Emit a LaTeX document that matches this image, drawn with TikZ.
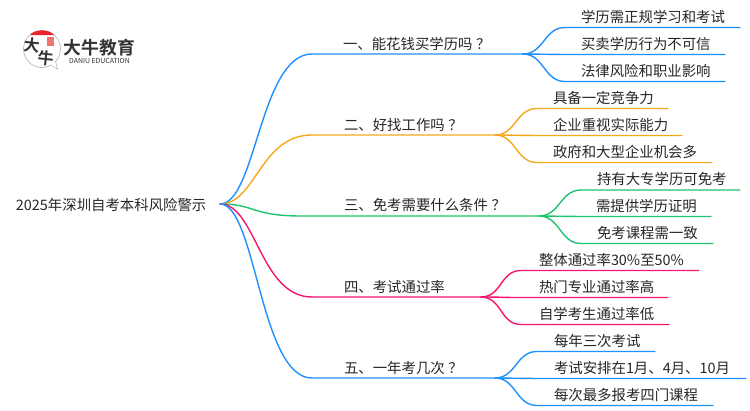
\documentclass[tikz,border=0pt]{standalone}
\usepackage{fontspec}
\setmainfont{Noto Sans CJK SC}
\newfontfamily\boldcjk{Noto Sans CJK SC Bold}
\definecolor{cblue}{HTML}{1E90FF}
\definecolor{corange}{HTML}{F5A81C}
\definecolor{cgreen}{HTML}{1FC46F}
\definecolor{cpink}{HTML}{F5156E}
\definecolor{ctext}{HTML}{262626}
\definecolor{clogo}{HTML}{333333}
\definecolor{cred}{HTML}{E8262A}
\tikzset{
  lbl/.style={anchor=west,inner sep=0pt,outer sep=0pt,text=ctext,font=\fontsize{14.4}{16}\selectfont},
  link/.style={line width=1.4pt,line cap=round,line join=round},
}
\newcommand{\branch}[2]{\draw[link,#1] (root) .. controls +(36,0) and +(-52,0) .. (#2a) -- (#2e);}
\newcommand{\twig}[3]{\draw[link,#1] (#2e) .. controls +(21,0) and +(-21,0) .. (#3a) -- (#3e);}
\newcommand{\qmark}{\kern3.5pt ？}
\begin{document}
\begin{tikzpicture}[x=1pt,y=-1pt]
\useasboundingbox (0,0) rectangle (750,410);
% logo
\coordinate (logoo) at (42,49);
\draw[gray!60,line width=0.6pt,fill=white] (51,65) -- (57.5,69) -- (55.5,61);
\draw[gray!60,line width=0.6pt] (logoo) circle[radius=18.5];
\fill[white] (50.5,64.5) -- (56.5,68) -- (55,61.5) -- cycle;
\fill[cred] (30,35) .. controls (35,28.8) and (49,28.8) .. (54,35) -- cycle;
\fill[cred!65] (46.5,36.5) rectangle (54,46);
\node[inner sep=0pt,text=clogo,font=\boldcjk\fontsize{16}{16}\selectfont,rotate=-6] (logoa) at (32.5,45.5) {大};
\node[inner sep=0pt,text=clogo,font=\boldcjk\fontsize{16}{16}\selectfont,rotate=-6] (logob) at (46,58) {牛};
\node[inner sep=0pt,anchor=center,text=clogo,font=\boldcjk\fontsize{17.8}{18}\selectfont] (logoc) at (99.5,47.5) {大牛教育};
\node[inner sep=0pt,anchor=center,text=clogo,font=\fontsize{6.9}{7}\selectfont] (logod) at (99.5,60.5) {DANIU EDUCATION};
% anchors
\coordinate (root) at (220,204);
\coordinate (b1a) at (312,54);   \coordinate (b1e) at (523,54);
\coordinate (b2a) at (312,135);  \coordinate (b2e) at (495,135);
\coordinate (b3a) at (302,216);  \coordinate (b3e) at (539,216);
\coordinate (b4a) at (312,297);  \coordinate (b4e) at (481,297);
\coordinate (b5a) at (312,378);  \coordinate (b5e) at (495,378);
\coordinate (l11a) at (565,27.5);  \coordinate (l11e) at (740,27.5);
\coordinate (l12a) at (565,54.5);  \coordinate (l12e) at (725,54.5);
\coordinate (l13a) at (565,81.5);  \coordinate (l13e) at (725,81.5);
\coordinate (l21a) at (537,108.5); \coordinate (l21e) at (668,108.5);
\coordinate (l22a) at (537,135.5); \coordinate (l22e) at (682,135.5);
\coordinate (l23a) at (537,162.5); \coordinate (l23e) at (712,162.5);
\coordinate (l31a) at (581,190);   \coordinate (l31e) at (740,190);
\coordinate (l32a) at (581,216.5); \coordinate (l32e) at (711,216.5);
\coordinate (l33a) at (581,243.5); \coordinate (l33e) at (713,243.5);
\coordinate (l41a) at (521,270.5); \coordinate (l41e) at (699,270.5);
\coordinate (l42a) at (521,297.5); \coordinate (l42e) at (668,297.5);
\coordinate (l43a) at (521,324.5); \coordinate (l43e) at (669,324.5);
\coordinate (l51a) at (537,351.5); \coordinate (l51e) at (655,351.5);
\coordinate (l52a) at (537,378.5); \coordinate (l52e) at (746,378.5);
\coordinate (l53a) at (537,405.5); \coordinate (l53e) at (713,405.5);
% connectors
\branch{cblue}{b1}
\branch{corange}{b2}
\branch{cgreen}{b3}
\branch{cpink}{b4}
\branch{cblue}{b5}
\twig{cblue}{b1}{l11}\twig{cblue}{b1}{l12}\twig{cblue}{b1}{l13}
\twig{corange}{b2}{l21}\twig{corange}{b2}{l22}\twig{corange}{b2}{l23}
\twig{cgreen}{b3}{l31}\twig{cgreen}{b3}{l32}\twig{cgreen}{b3}{l33}
\twig{cpink}{b4}{l41}\twig{cpink}{b4}{l42}\twig{cpink}{b4}{l43}
\twig{cblue}{b5}{l51}\twig{cblue}{b5}{l52}\twig{cblue}{b5}{l53}
% texts
\node[lbl] (t0) at (16,205) {2025年深圳自考本科风险警示};
\node[lbl] (t1) at (343,44) {一、能花钱买学历吗\qmark};
\node[lbl] (t2) at (344,125) {二、好找工作吗\qmark};
\node[lbl] (t3) at (344,205) {三、免考需要什么条件\qmark};
\node[lbl] (t4) at (344,287) {四、考试通过率};
\node[lbl] (t5) at (344,368) {五、一年考几次\qmark};
\node[lbl] (n11) at (581,17) {学历需正规学习和考试};
\node[lbl] (n12) at (581,44) {买卖学历行为不可信};
\node[lbl] (n13) at (581,71) {法律风险和职业影响};
\node[lbl] (n21) at (553,98) {具备一定竞争力};
\node[lbl] (n22) at (553,125) {企业重视实际能力};
\node[lbl] (n23) at (553,152) {政府和大型企业机会多};
\node[lbl] (n31) at (597,179) {持有大专学历可免考};
\node[lbl] (n32) at (596,206) {需提供学历证明};
\node[lbl] (n33) at (597,233) {免考课程需一致};
\node[lbl] (n41) at (539,260) {整体通过率30\%至50\%};
\node[lbl] (n42) at (539,287) {热门专业通过率高};
\node[lbl] (n43) at (539,314) {自学考生通过率低};
\node[lbl] (n51) at (554,341) {每年三次考试};
\node[lbl] (n52) at (554,368) {考试安排在1月、4月、10月};
\node[lbl] (n53) at (554,395) {每次最多报考四门课程};
\end{tikzpicture}
\end{document}
